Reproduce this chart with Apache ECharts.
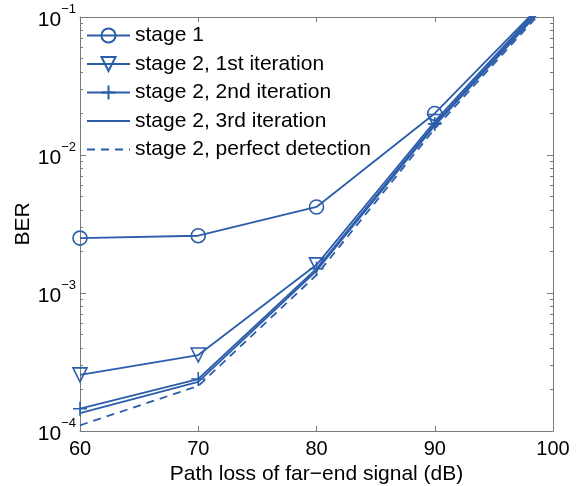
<!DOCTYPE html>
<html>
<head>
<meta charset="utf-8">
<script src="https://cdn.jsdelivr.net/npm/echarts@6/dist/echarts.min.js"></script>
<style>
html, body { margin: 0; padding: 0; background: #fff; }
#main { width: 581px; height: 486px; }
</style>
</head>
<body>
<div id="main"></div>
<script>
// data
var pathLoss = [60, 70, 80, 90, 100];
var stage1 = [2.5e-3, 2.6e-3, 4.2e-3, 2.0e-2, 0.15];
var iter1 = [2.55e-4, 3.55e-4, 1.6e-3, 1.75e-2, 0.15];
var iter2 = [1.45e-4, 2.38e-4, 1.5e-3, 1.68e-2, 0.145];
var iter3 = [1.35e-4, 2.27e-4, 1.45e-3, 1.63e-2, 0.14];
var perfect = [1.1e-4, 2.12e-4, 1.35e-3, 1.55e-2, 0.135];
var names = ['stage 1', 'stage 2, 1st iteration', 'stage 2, 2nd iteration', 'stage 2, 3rd iteration', 'stage 2, perfect detection'];

var blue = '#2c5daa';
var axisGray = '#7a7a7a';
var font = "'Liberation Sans', Arial, sans-serif";

// minor ticks (2..9 in each decade), as log10 positions on a helper axis
var minorTicks = [];
for (var n = -4; n <= -2; n++) {
    for (var k = 2; k <= 9; k++) {
        minorTicks.push(n + Math.log(k) / Math.LN10);
    }
}

function pairs(ys) {
    var out = [];
    for (var i = 0; i < pathLoss.length; i++) {
        out.push([pathLoss[i], ys[i]]);
    }
    return out;
}

function mkSeries(name, ys, symbol, dashed) {
    return {
        name: name,
        type: 'line',
        data: pairs(ys),
        symbol: symbol,
        symbolSize: 14,
        showSymbol: symbol !== 'none',
        clip: true,
        animation: false,
        lineStyle: { color: blue, width: 1.8, type: dashed ? [8, 6] : 'solid' },
        itemStyle: { color: 'none', borderColor: blue, borderWidth: 1.6 },
        emphasis: { disabled: true }
    };
}

function minorAxis(pos) {
    return {
        type: 'value',
        min: -4,
        max: -1,
        position: pos,
        axisLine: { show: false },
        axisTick: { show: true, inside: true, length: 3, customValues: minorTicks, lineStyle: { color: axisGray } },
        axisLabel: { show: false },
        splitLine: { show: false }
    };
}

var chart = echarts.init(document.getElementById('main'));

var yLabelRich = {
    b: { fontSize: 21, fontFamily: font, color: '#000', lineHeight: 28, verticalAlign: 'bottom', padding: [4, 0, 0, 0] },
    e: { fontSize: 13, fontFamily: font, color: '#000', lineHeight: 28, verticalAlign: 'top' }
};

var legendData = [];
for (var i = 0; i < names.length; i++) {
    var item = { name: names[i] };
    if (i >= 3) {
        item.itemStyle = { opacity: 0 };   // no marker in the legend for these two
    }
    legendData.push(item);
}

var option = {
    backgroundColor: '#fff',
    textStyle: { fontFamily: font },
    grid: { left: 80, right: 28, top: 17, bottom: 55, outerBoundsMode: 'none', containLabel: false },
    legend: {
        orient: 'vertical',
        left: 86,
        top: 25,
        padding: 0,
        itemWidth: 43,
        itemHeight: 17.5,
        itemGap: 7.5,
        data: legendData,
        textStyle: { fontSize: 21, color: '#000', fontFamily: font }
    },
    xAxis: [{
        type: 'value',
        min: 60,
        max: 100,
        interval: 10,
        name: 'Path loss of far\u2212end signal (dB)',
        nameLocation: 'middle',
        nameGap: 31,
        nameTextStyle: { fontSize: 21, color: '#000', fontFamily: font },
        axisLine: { lineStyle: { color: axisGray, width: 1 } },
        axisTick: { inside: true, length: 5, lineStyle: { color: axisGray } },
        axisLabel: { fontSize: 20, color: '#000', margin: 8, fontFamily: font },
        splitLine: { show: false }
    }, {
        type: 'value',
        position: 'top',
        min: 60,
        max: 100,
        interval: 10,
        axisLine: { lineStyle: { color: axisGray, width: 1 } },
        axisTick: { inside: true, length: 5, lineStyle: { color: axisGray } },
        axisLabel: { show: false },
        splitLine: { show: false }
    }],
    yAxis: [{
        type: 'log',
        min: 1e-4,
        max: 1e-1,
        logBase: 10,
        name: 'BER',
        nameLocation: 'middle',
        nameGap: 46,
        nameMoveOverlap: false,
        nameRotate: 90,
        nameTextStyle: { fontSize: 21, color: '#000', fontFamily: font },
        axisLine: { lineStyle: { color: axisGray, width: 1 } },
        axisTick: { inside: true, length: 6, lineStyle: { color: axisGray } },
        axisLabel: {
            margin: 4,
            formatter: function (v) {
                var p = Math.round(Math.log(v) / Math.LN10);
                return '{b|10}{e|' + (p < 0 ? '\u2212' + (-p) : p) + '}';
            },
            rich: yLabelRich
        },
        splitLine: { show: false }
    }, {
        type: 'log',
        min: 1e-4,
        max: 1e-1,
        position: 'right',
        axisLine: { lineStyle: { color: axisGray, width: 1 } },
        axisTick: { inside: true, length: 6, lineStyle: { color: axisGray } },
        axisLabel: { show: false },
        splitLine: { show: false }
    }, minorAxis('left'), minorAxis('right')],
    series: [
        mkSeries(names[0], stage1, 'circle', false),
        mkSeries(names[1], iter1, 'path://M0,0L10,0L5,9Z', false),
        mkSeries(names[2], iter2, 'path://M5,0L5,10M0,5L10,5', false),
        mkSeries(names[3], iter3, 'none', false),
        mkSeries(names[4], perfect, 'none', true)
    ]
};

chart.setOption(option);
</script>
</body>
</html>
